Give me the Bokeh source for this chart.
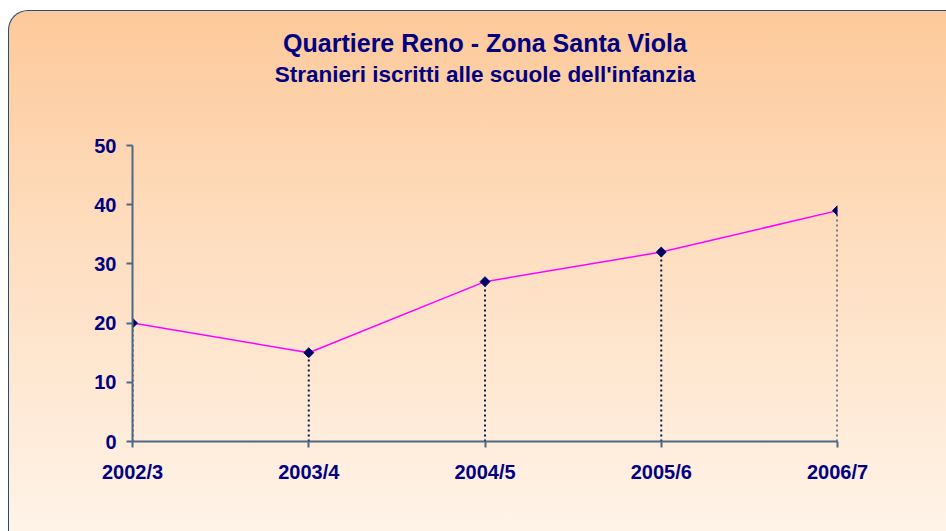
import math
from bokeh.plotting import figure
from bokeh.models import Range1d, FixedTicker, Title
from bokeh.embed import file_html
from bokeh.resources import INLINE

# ---- data ----
years = ["2002/3", "2003/4", "2004/5", "2005/6", "2006/7"]
stranieri = [20, 15, 27, 32, 39]
y_ticks = [0, 10, 20, 30, 40, 50]

title_text = "Quartiere Reno - Zona Santa Viola"
subtitle_text = "Stranieri iscritti alle scuole dell'infanzia"

xs = list(range(len(years)))

W, H = 938, 521
ML, MR, MT, MB = 123, 110, 134, 91
p = figure(width=W, height=H, output_backend="svg", toolbar_location=None,
           x_range=Range1d(0, len(years) - 1), y_range=Range1d(0, 50),
           min_border_left=ML, min_border_right=MR, min_border_top=MT,
           min_border_bottom=MB, title=None)
p.border_fill_color = None
p.background_fill_color = None
p.outline_line_color = None
p.styles = {
    "background": "linear-gradient(to bottom, #fdc99a 0%, #fedcbc 40%, #fff3e8 100%)",
    "border-left": "1.5px solid #1f4e79",
    "border-top": "1.5px solid #1f4e79",
    "border-top-left-radius": "20px",
    "margin-left": "8px",
    "margin-top": "10px",
    "box-sizing": "border-box",
}

p.grid.visible = False

navy = "#000080"
axis_col = "#4d6886"
for ax in (p.xaxis[0], p.yaxis[0]):
    ax.axis_line_color = axis_col
    ax.axis_line_width = 2
    ax.major_tick_line_color = axis_col
    ax.major_tick_line_width = 2
    ax.major_tick_in = 0
    ax.major_tick_out = 6
    ax.minor_tick_line_color = None
    ax.major_label_text_font = "Liberation Sans"
    ax.major_label_text_font_style = "bold"
    ax.major_label_text_font_size = "20px"
    ax.major_label_text_color = navy

p.xaxis.ticker = FixedTicker(ticks=xs)
p.xaxis.major_label_overrides = {i: s for i, s in enumerate(years)}
p.xaxis.major_label_standoff = 13
p.yaxis.ticker = FixedTicker(ticks=y_ticks)
p.yaxis.major_label_standoff = 10

# drop lines
p.segment(x0=xs, y0=[0] * len(xs), x1=xs, y1=stranieri,
          line_color="#001a4d", line_width=2, line_dash="2 3")
p.line(xs, stranieri, line_color="#ff00ff", line_width=1.5)
p.scatter(xs, stranieri, marker="square", size=7, angle=math.pi / 4,
          fill_color="#000066", line_color="#000066")

# titles: first added = nearest to the frame (a background-coloured spacer first)
p.add_layout(Title(text=".", align="center", standoff=50,
                   text_font_size="8px", text_color="#fdd6b2"), "above")
p.add_layout(Title(text=subtitle_text, align="center", standoff=4,
                   text_font="Liberation Sans", text_font_style="bold",
                   text_font_size="22.5px", text_color=navy), "above")
p.add_layout(Title(text=title_text, align="center", standoff=1,
                   text_font="Liberation Sans", text_font_style="bold",
                   text_font_size="25px", text_color=navy), "above")

open("out.html", "w").write(file_html(p, INLINE))
